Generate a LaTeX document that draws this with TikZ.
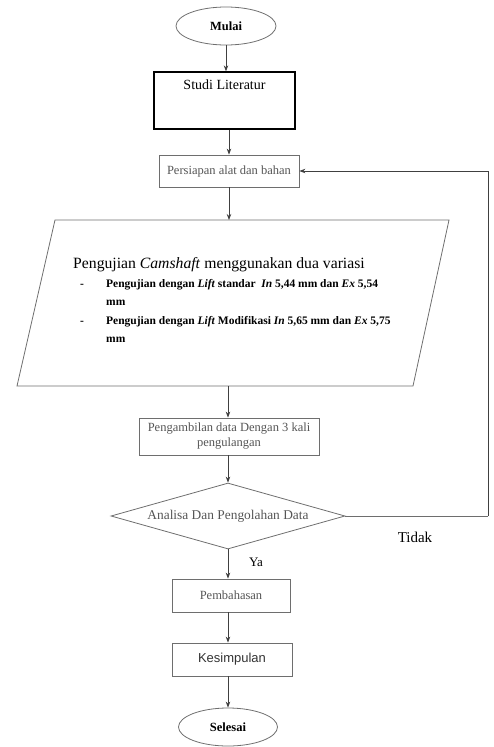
\documentclass[tikz,border=0pt]{standalone}
\usepackage{fontspec}
\setmainfont{Liberation Serif}
\newfontfamily\arialf{Liberation Sans}
\usetikzlibrary{shapes.geometric,arrows.meta}
\definecolor{lin}{HTML}{6E6E6E}
\definecolor{txg}{HTML}{555555}
\tikzset{
  arr/.style={draw=black!75, line width=0.8pt, -{Stealth[length=6pt,width=4.5pt]}},
  term/.style={ellipse, draw=lin, line width=0.8pt, inner sep=0pt, font=\fontsize{12.5}{14}\selectfont\bfseries},
  gbox/.style={rectangle, draw=lin, line width=0.8pt, inner sep=0pt, text=txg, font=\fontsize{12.5}{15}\selectfont, align=center},
  btxt/.style={anchor=base west, inner sep=0pt, font=\fontsize{11.5}{13}\selectfont\bfseries},
}
\begin{document}
\begin{tikzpicture}[x=1pt,y=-1pt]
\useasboundingbox (0,0) rectangle (493,747);
% nodes
\node[term, minimum width=100pt, minimum height=38pt] (mulai) at (226,26) {Mulai};
\node[rectangle, draw=black, line width=1.3pt, minimum width=141pt, minimum height=57pt, inner sep=0pt] (studi) at (224.5,100.5) {};
\node[font=\fontsize{14}{16}\selectfont, anchor=north, inner sep=0pt] (studitext) at (224.5,80) {Studi Literatur};
\node[gbox, minimum width=140pt, minimum height=32pt] (persiapan) at (229,171) {Persiapan alat dan bahan};
% parallelogram
\coordinate (pTL) at (55,220);
\coordinate (pTR) at (449,220);
\coordinate (pBR) at (413,386);
\coordinate (pBL) at (17,386);
\coordinate (pTop) at (229,220);
\coordinate (pBot) at (228,386);
\draw[draw=lin, line width=0.8pt] (pTL) -- (pTR) -- (pBR) -- (pBL) -- cycle;
\node[anchor=base west, inner sep=0pt, font=\fontsize{15.7}{18}\selectfont] (judul) at (73,268) {Pengujian \textit{Camshaft} menggunakan dua variasi};
\node[btxt] (d1) at (80,287) {-};
\node[btxt] (d2) at (80,324) {-};
\node[btxt] (b1a) at (106,287) {Pengujian dengan \textit{Lift} standar\ \ \textit{In} 5,44 mm dan \textit{Ex} 5,54};
\node[btxt] (b1b) at (106,305.5) {mm};
\node[btxt] (b2a) at (106,324) {Pengujian dengan \textit{Lift} Modifikasi \textit{In} 5,65 mm dan \textit{Ex} 5,75};
\node[btxt] (b2b) at (106,342.5) {mm};
\node[gbox, minimum width=180pt, minimum height=37pt] (ambil) at (229,436.5) {Pengambilan data Dengan 3 kali\\pengulangan};
\node[diamond, shape aspect=3.5, draw=lin, line width=0.8pt, inner sep=0pt, minimum width=234pt, minimum height=66pt, text=txg, font=\fontsize{13.4}{15}\selectfont] (analisa) at (228,516) {Analisa Dan Pengolahan Data};
\node[gbox, minimum width=118pt, minimum height=33pt] (bahas) at (231,595.5) {Pembahasan};
\node[rectangle, draw=lin, line width=0.8pt, inner sep=0pt, minimum width=120pt, minimum height=33pt, text=black!80, font=\arialf\fontsize{13}{15}\selectfont] (simpul) at (232,659.5) {Kesimpulan};
\node[term, minimum width=99pt, minimum height=38pt] (selesai) at (228,727) {Selesai};
\node[font=\fontsize{15}{17}\selectfont, inner sep=0pt] (tidak) at (415,537) {Tidak};
\node[font=\fontsize{13}{15}\selectfont, inner sep=0pt] (ya) at (256,562) {Ya};
\coordinate (fb) at (488,516);
% connectors
\draw[arr] (mulai.south) -- (mulai.south |- studi.north);
\draw[arr] (persiapan.north |- studi.south) -- (persiapan.north);
\draw[arr] (persiapan.south) -- (pTop);
\draw[arr] (pBot) -- (pBot |- ambil.north);
\draw[arr] (analisa.north |- ambil.south) -- (analisa.north);
\draw[arr] (analisa.south) -- (analisa.south |- bahas.north);
\draw[arr] (analisa.south |- bahas.south) -- (analisa.south |- simpul.north);
\draw[arr] (analisa.south |- simpul.south) -- (selesai.north);
\draw[draw=lin, line width=0.8pt] (analisa.east) -- (fb);
\draw[arr] (fb) |- (persiapan.east);
\end{tikzpicture}
\end{document}
